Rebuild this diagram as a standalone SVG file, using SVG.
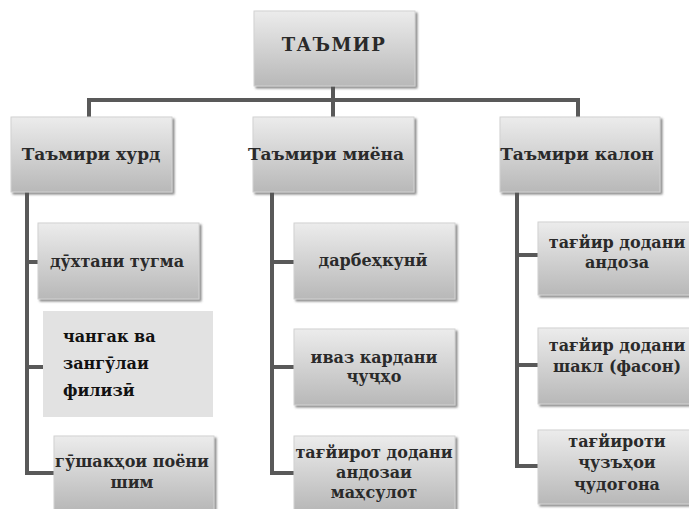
<svg xmlns="http://www.w3.org/2000/svg" width="689" height="509" viewBox="0 0 689 509">
<defs>
<linearGradient id="g" x1="0" y1="0" x2="0" y2="1"><stop offset="0" stop-color="#ececec"/><stop offset="1" stop-color="#b8b8b8"/></linearGradient>
<filter id="sh" x="-10%" y="-10%" width="125%" height="130%"><feDropShadow dx="2" dy="2" stdDeviation="0.8" flood-color="#555" flood-opacity="0.7"/></filter>
</defs>
<style>
.box{fill:url(#g);stroke:#d2d2d2;stroke-width:1;filter:url(#sh)}
.flat{fill:#e2e2e2}
text{font-family:"DejaVu Serif","Liberation Serif",serif;font-weight:700;fill:#2a2a2a;text-anchor:middle}
.r{font-size:18px;letter-spacing:1.5px}
.l1{font-size:17px}
.l2{font-size:16px}
.ln{fill:none;stroke:#595959;stroke-width:4}
</style>
<g id="connectors">
<path class="ln" d="M333 86 V100 M89 117 V100 H578 V117 M333 100 V117"/>
<path class="ln" d="M27 192 V473 H54 M27 262 H38 M27 367 H43"/>
<path class="ln" d="M272 192 V473 H294 M272 262 H294 M272 367 H294"/>
<path class="ln" d="M517 192 V466 H538 M517 255 H538 M517 365 H538"/>
</g>
<g id="root"><rect class="box" x="254" y="11" width="161" height="75"/><text class="r" x="334" y="51">ТАЪМИР</text></g>
<g id="small"><rect class="box" x="11" y="117" width="161" height="75"/><text class="l1" x="91" y="160">Таъмири хурд</text></g>
<g id="medium"><rect class="box" x="253" y="117" width="161" height="75"/><text class="l1" x="326" y="160">Таъмири миёна</text></g>
<g id="major"><rect class="box" x="500" y="117" width="160" height="75"/><text class="l1" x="577" y="160">Таъмири калон</text></g>

<g id="s1"><rect class="box" x="38" y="223" width="161" height="76"/><text class="l2" x="117" y="267">дӯхтани тугма</text></g>
<g id="s2"><rect class="flat" x="43" y="311" width="170" height="106"/><text class="l2" style="text-anchor:start;fill:#111" x="63"><tspan x="63" y="342">чангак ва</tspan><tspan x="63" y="369">зангӯлаи</tspan><tspan x="63" y="396">филизӣ</tspan></text></g>
<g id="s3"><rect class="box" x="54" y="436" width="160" height="74"/><text class="l2"><tspan x="132" y="467">гӯшакҳои поёни</tspan><tspan x="132" y="488">шим</tspan></text></g>

<g id="m1"><rect class="box" x="294" y="223" width="161" height="76"/><text class="l2" x="373" y="266">дарбеҳкунӣ</text></g>
<g id="m2"><rect class="box" x="294" y="329" width="161" height="76"/><text class="l2"><tspan x="374" y="363">иваз кардани</tspan><tspan x="374" y="382">ҷуҷҳо</tspan></text></g>
<g id="m3"><rect class="box" x="294" y="436" width="161" height="74"/><text class="l2"><tspan x="374" y="458">тағйирот додани</tspan><tspan x="374" y="478">андозаи</tspan><tspan x="374" y="498">маҳсулот</tspan></text></g>

<g id="b1"><rect class="box" x="538" y="222" width="160" height="73"/><text class="l2"><tspan x="617" y="248">тағйир додани</tspan><tspan x="617" y="268">андоза</tspan></text></g>
<g id="b2"><rect class="box" x="538" y="328" width="160" height="76"/><text class="l2"><tspan x="617" y="351">тағйир додани</tspan><tspan x="617" y="372">шакл (фасон)</tspan></text></g>
<g id="b3"><rect class="box" x="538" y="430" width="160" height="74"/><text class="l2"><tspan x="617" y="447">тағйироти</tspan><tspan x="617" y="468">ҷузъҳои</tspan><tspan x="617" y="490">ҷудогона</tspan></text></g>
</svg>
